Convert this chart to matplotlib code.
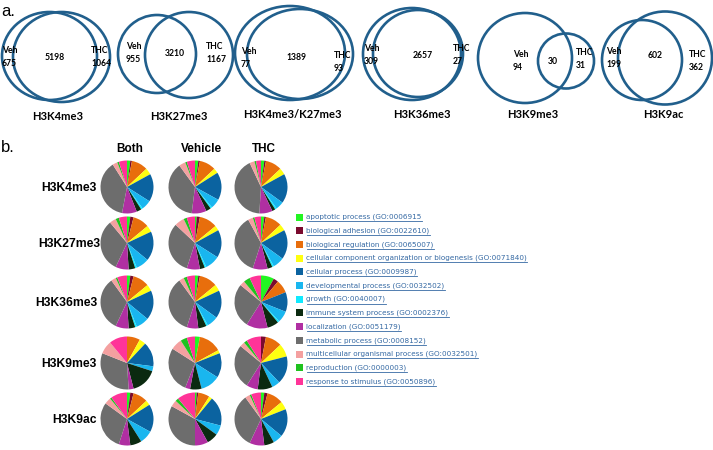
import matplotlib
matplotlib.use("Agg")
import matplotlib.pyplot as plt
from matplotlib.patches import Ellipse, Rectangle
from matplotlib.lines import Line2D

# ---------------- data ----------------
venn_names = ["H3K4me3", "H3K27me3", "H3K4me3/K27me3", "H3K36me3", "H3K9me3", "H3K9ac"]
venn_veh_only = [675, 955, 77, 309, 94, 199]
venn_both = [5198, 3210, 1389, 2657, 30, 602]
venn_thc_only = [1064, 1167, 93, 27, 31, 362]

go_terms = [
    "apoptotic process (GO:0006915",
    "biological adhesion (GO:0022610)",
    "biological regulation (GO:0065007)",
    "cellular component organization or biogenesis (GO:0071840)",
    "cellular process (GO:0009987)",
    "developmental process (GO:0032502)",
    "growth (GO:0040007)",
    "immune system process (GO:0002376)",
    "localization (GO:0051179)",
    "metabolic process (GO:0008152)",
    "multicellular organismal process (GO:0032501)",
    "reproduction (GO:0000003)",
    "response to stimulus (GO:0050896)",
]
go_colors = ["#22f522", "#7a0a2e", "#e86e0c", "#ffff10", "#0b63a0", "#19b6ef",
             "#10eaff", "#0b2a10", "#b02fa2", "#6d6d6d", "#f4a0a0", "#1fc21f", "#ff3498"]

pie_rows = ["H3K4me3", "H3K27me3", "H3K36me3", "H3K9me3", "H3K9ac"]
pie_cols = ["Both", "Vehicle", "THC"]

h3k4me3_both = [2, 1, 10, 4, 17, 6, 1, 3, 9, 38, 3, 1, 5]
h3k4me3_vehicle = [2, 1, 10, 3, 17, 6, 1, 3, 9, 38, 4, 1, 5]
h3k4me3_thc = [2, 1, 10, 4, 18, 5, 1, 2, 8, 42, 3, 1, 3]
h3k27me3_both = [2, 2, 10, 4, 18, 8, 1, 4, 8, 32, 4, 2, 5]
h3k27me3_vehicle = [1, 2, 11, 3, 17, 9, 1, 3, 8, 32, 6, 2, 5]
h3k27me3_thc = [2, 1, 10, 4, 18, 7, 1, 3, 9, 37, 3, 1, 4]
h3k36me3_both = [2, 2, 10, 4, 18, 8, 1, 4, 8, 33, 3, 1, 6]
h3k36me3_vehicle = [2, 1, 11, 4, 17, 7, 1, 5, 7, 35, 3, 2, 5]
h3k36me3_thc = [8, 3, 8, 0, 12, 7, 1, 7, 13, 27, 3, 4, 7]
h3k9me3_both = [0, 0, 8, 4, 15, 3, 0, 16, 3, 32, 8, 0, 11]
h3k9me3_vehicle = [3, 0, 14, 2, 15, 12, 0, 7, 3, 28, 7, 4, 5]
h3k9me3_thc = [0, 3, 10, 8, 17, 5, 0, 9, 7, 27, 3, 2, 9]
h3k9ac_both = [2, 2, 9, 3, 17, 8, 0, 7, 7, 30, 4, 1, 10]
h3k9ac_vehicle = [1, 1, 7, 2, 18, 6, 0, 7, 8, 33, 4, 2, 11]
h3k9ac_thc = [2, 2, 10, 5, 17, 6, 0, 6, 9, 33, 3, 1, 6]

pie_data = [
    [h3k4me3_both, h3k4me3_vehicle, h3k4me3_thc],
    [h3k27me3_both, h3k27me3_vehicle, h3k27me3_thc],
    [h3k36me3_both, h3k36me3_vehicle, h3k36me3_thc],
    [h3k9me3_both, h3k9me3_vehicle, h3k9me3_thc],
    [h3k9ac_both, h3k9ac_vehicle, h3k9ac_thc],
]

# ---------------- layout (pixel space, y downward) ----------------
W, H = 713, 450
fig = plt.figure(figsize=(W / 100, H / 100), dpi=100)
ax = fig.add_axes([0, 0, 1, 1])


def Y(y):
    return H - y


venn_color = "#215f8c"
# (cx, cy, w, h) for left and right ellipses
venn_shapes = [
    [(49.5, 56, 95, 88), (61.5, 57, 97, 90)],
    [(157, 54, 78, 78), (189, 55, 88, 86)],
    [(290, 53, 110, 94), (300, 54, 106, 90)],
    [(412, 54, 98, 92), (418, 53.5, 90, 87)],
    [(525, 58, 94, 90), (566, 61, 56, 55)],
    [(642, 60, 80, 80), (665, 58, 94, 93)],
]
# label positions: veh (x, y, ha), both (x, y), thc (x, y, ha), title (x, y)
venn_lab = [
    ((2, 57, "left"), (55, 57), (91, 57, "left"), (58, 117)),
    ((126, 53, "left"), (175, 54), (206, 53, "left"), (179, 116)),
    ((241, 58, "left"), (296, 57), (334, 62, "left"), (292, 114)),
    ((364, 55, "left"), (423, 56), (453, 55, "left"), (422, 114)),
    ((513, 61, "left"), (553, 61), (576, 59, "left"), (533, 114)),
    ((606, 58, "left"), (655, 55), (689, 61, "left"), (663, 114)),
]

vfont = dict(family=["Lato", "DejaVu Sans"], fontweight="bold", color="black")
for i, name in enumerate(venn_names):
    for (cx, cy, w, h) in venn_shapes[i]:
        ax.add_patch(Ellipse((cx, Y(cy)), w, h, fill=False, ec=venn_color, lw=1.9))
    (vx, vy, vha), (bx, by), (tx, ty, tha), (nx, ny) = venn_lab[i]
    ax.text(vx, Y(vy), f"Veh\n{venn_veh_only[i]}", ha=vha, va="center",
            fontsize=6.2, linespacing=1.5, **vfont)
    ax.text(bx, Y(by), f"{venn_both[i]}", ha="center", va="center", fontsize=6.2, **vfont)
    ax.text(tx, Y(ty), f"THC\n{venn_thc_only[i]}", ha=tha, va="center",
            fontsize=6.2, linespacing=1.5, **vfont)
    ax.text(nx, Y(ny), name, ha="center", va="center", fontsize=8, **vfont)

afont = dict(family=["Liberation Sans", "DejaVu Sans"])
ax.text(1, Y(12), "a.", fontsize=12, ha="left", va="center", **afont)
ax.text(1, Y(148), "b.", fontsize=12, ha="left", va="center", **afont)

# ---------------- pies ----------------
col_x = [127, 195, 261]
row_y = [187, 243, 302, 363, 419]
radius = 26.5
hfont = dict(family=["Liberation Sans", "DejaVu Sans"], fontweight="bold")
for j, c in enumerate(pie_cols):
    ax.text(col_x[j] + (3 if j == 0 else 6 if j == 1 else 3), Y(149), c,
            ha="center", va="center", fontsize=8.5, **hfont)
for i, r in enumerate(pie_rows):
    ax.text(97 if i != 1 else 100, Y(row_y[i] + 1), r, ha="right", va="center",
            fontsize=8.7, **hfont)
    for j in range(3):
        ax.pie(pie_data[i][j], colors=go_colors, startangle=90, counterclock=False,
               center=(col_x[j], Y(row_y[i])), radius=radius, frame=True,
               wedgeprops=dict(linewidth=0))

# ---------------- legend ----------------
leg_y0, leg_dy = 217, 13.7
link_color = "#3569a3"
texts = []
for k, term in enumerate(go_terms):
    yy = leg_y0 + k * leg_dy
    ax.add_patch(Rectangle((295.5, Y(yy + 3.5)), 7, 7, fc=go_colors[k], ec="none"))
    t = ax.text(306.5, Y(yy), term, ha="left", va="center", fontsize=5.25,
                color=link_color, family=["DejaVu Sans"])
    texts.append((t, yy))

ax.set_xlim(0, W)
ax.set_ylim(0, H)
ax.set_aspect("auto")
ax.axis("off")

fig.canvas.draw()
renderer = fig.canvas.get_renderer()
inv = ax.transData.inverted()
for t, yy in texts:
    bb = t.get_window_extent(renderer)
    (x0, _), (x1, _) = inv.transform([(bb.x0, bb.y0), (bb.x1, bb.y1)])
    ax.add_line(Line2D([x0, x1], [Y(yy + 4.3), Y(yy + 4.3)], color=link_color, lw=0.6))

fig.savefig("out.png", dpi=100)
